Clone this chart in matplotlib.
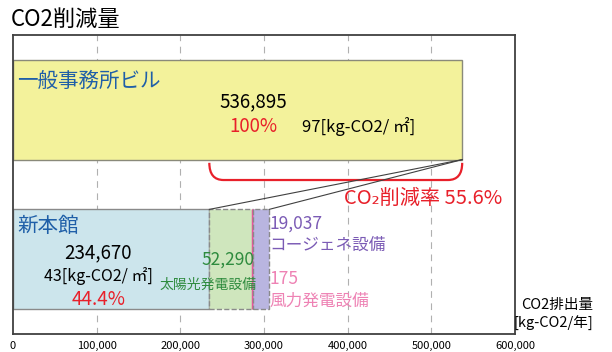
import matplotlib
matplotlib.use('Agg')
import matplotlib.pyplot as plt
from matplotlib.path import Path
from matplotlib.patches import PathPatch
from matplotlib.ticker import FuncFormatter

plt.rcParams['font.family'] = ['Noto Sans CJK JP', 'DejaVu Sans']

# 排出量 [kg-CO2/年]
office_total = 536895
new_building = 234670
solar = 52290
wind = 175
cogen = 19037
reduction_rate = 55.6
office_share = 100
new_share = 44.4
office_unit = 97
new_unit = 43
xticks = [0, 100000, 200000, 300000, 400000, 500000, 600000]

fig = plt.figure(figsize=(6.12, 3.52), dpi=100)
ax = fig.add_axes([0.0212, 0.0511, 0.8203, 0.8495])
ax.set_xlim(0, 600000)
ax.set_ylim(-0.5, 1.5)

h = 0.667
# 一般事務所ビル
ax.barh(1, office_total, height=h, color='#f3f29b', edgecolor='#8a8a7a', lw=1)
# 新本館 + 設備分
ax.barh(0, new_building, height=h, color='#cce5ec', edgecolor='#8a8a8a', lw=1)
left = new_building
ax.barh(0, solar, left=left, height=h, color='#cfe6bd', edgecolor='#8a8a8a', lw=1, ls='--')
left += solar
ax.barh(0, wind, left=left, height=h, color='#e8559a', edgecolor='#e8559a', lw=2.5)
left += wind
ax.barh(0, cogen, left=left, height=h, color='#b9b5e0', edgecolor='#8a8a8a', lw=1, ls='--')
stack_end = left + cogen

for x in xticks[1:-1]:
    ax.axvline(x, color='#b0b0b0', lw=0.8, ls=(0, (6, 5)), zorder=0)

# 拡大線
ax.plot([office_total, new_building], [1 - h / 2, h / 2], color='#404040', lw=0.8)
ax.plot([office_total, stack_end], [1 - h / 2, h / 2], color='#404040', lw=0.8)

# 削減量の括弧
r = 17000
y0, y1 = 0.645, 0.53
verts = [(new_building, y0), (new_building, y1), (new_building + r, y1),
         (office_total - r, y1),
         (office_total, y1), (office_total, y0)]
codes = [Path.MOVETO, Path.CURVE3, Path.CURVE3, Path.LINETO, Path.CURVE3, Path.CURVE3]
ax.add_patch(PathPatch(Path(verts, codes), fill=False, ec='#e8202a', lw=1.6))

ax.text(490000, 0.41, f'CO₂削減率 {reduction_rate}%', color='#e8202a', fontsize=14.5,
        ha='center', va='center')

blue = '#1f5fa8'
red = '#e8202a'
ax.text(5000, 1.19, '一般事務所ビル', color=blue, fontsize=14.8, va='center')
ax.text(287000, 1.05, f'{office_total:,}', fontsize=13.5, ha='center', va='center')
ax.text(287000, 0.885, f'{office_share}%', color=red, fontsize=13.5, ha='center', va='center')
ax.text(345000, 0.885, f'{office_unit}[kg-CO2/ ㎡]', fontsize=12, va='center')

ax.text(5000, 0.225, '新本館', color=blue, fontsize=14.8, va='center')
ax.text(102000, 0.04, f'{new_building:,}', fontsize=13.5, ha='center', va='center')
ax.text(102000, -0.115, f'{new_unit}[kg-CO2/ ㎡]', fontsize=11.5, ha='center', va='center')
ax.text(102000, -0.27, f'{new_share}%', color=red, fontsize=13.5, ha='center', va='center')

green = '#2e8b3e'
ax.text(257000, -0.005, f'{solar:,}', color=green, fontsize=12.5, ha='center', va='center')
ax.text(233000, -0.17, '太陽光発電設備', color=green, fontsize=10, ha='center', va='center')

purple = '#7b5bb5'
pink = '#ee82b4'
ax.text(307000, 0.235, f'{cogen:,}', color=purple, fontsize=12.5, va='center')
ax.text(307000, 0.095, 'コージェネ設備', color=purple, fontsize=12, va='center')
ax.text(307000, -0.135, f'{wind}', color=pink, fontsize=12.5, va='center')
ax.text(307000, -0.28, '風力発電設備', color=pink, fontsize=12, va='center')

ax.set_xticks(xticks)
ax.xaxis.set_major_formatter(FuncFormatter(lambda v, p: f'{int(v):,}'))
ax.tick_params(axis='x', length=0, labelsize=8, pad=5)
ax.set_yticks([])
for s in ax.spines.values():
    s.set_color('#404040')
    s.set_linewidth(1.3)

fig.text(0.018, 0.946, 'CO2削減量', fontsize=16, va='center')
fig.text(0.91, 0.134, 'CO2排出量', fontsize=10.5, ha='center', va='center')
fig.text(0.905, 0.082, '[kg-CO2/年]', fontsize=10.5, ha='center', va='center')

fig.savefig('out.png', dpi=100)
